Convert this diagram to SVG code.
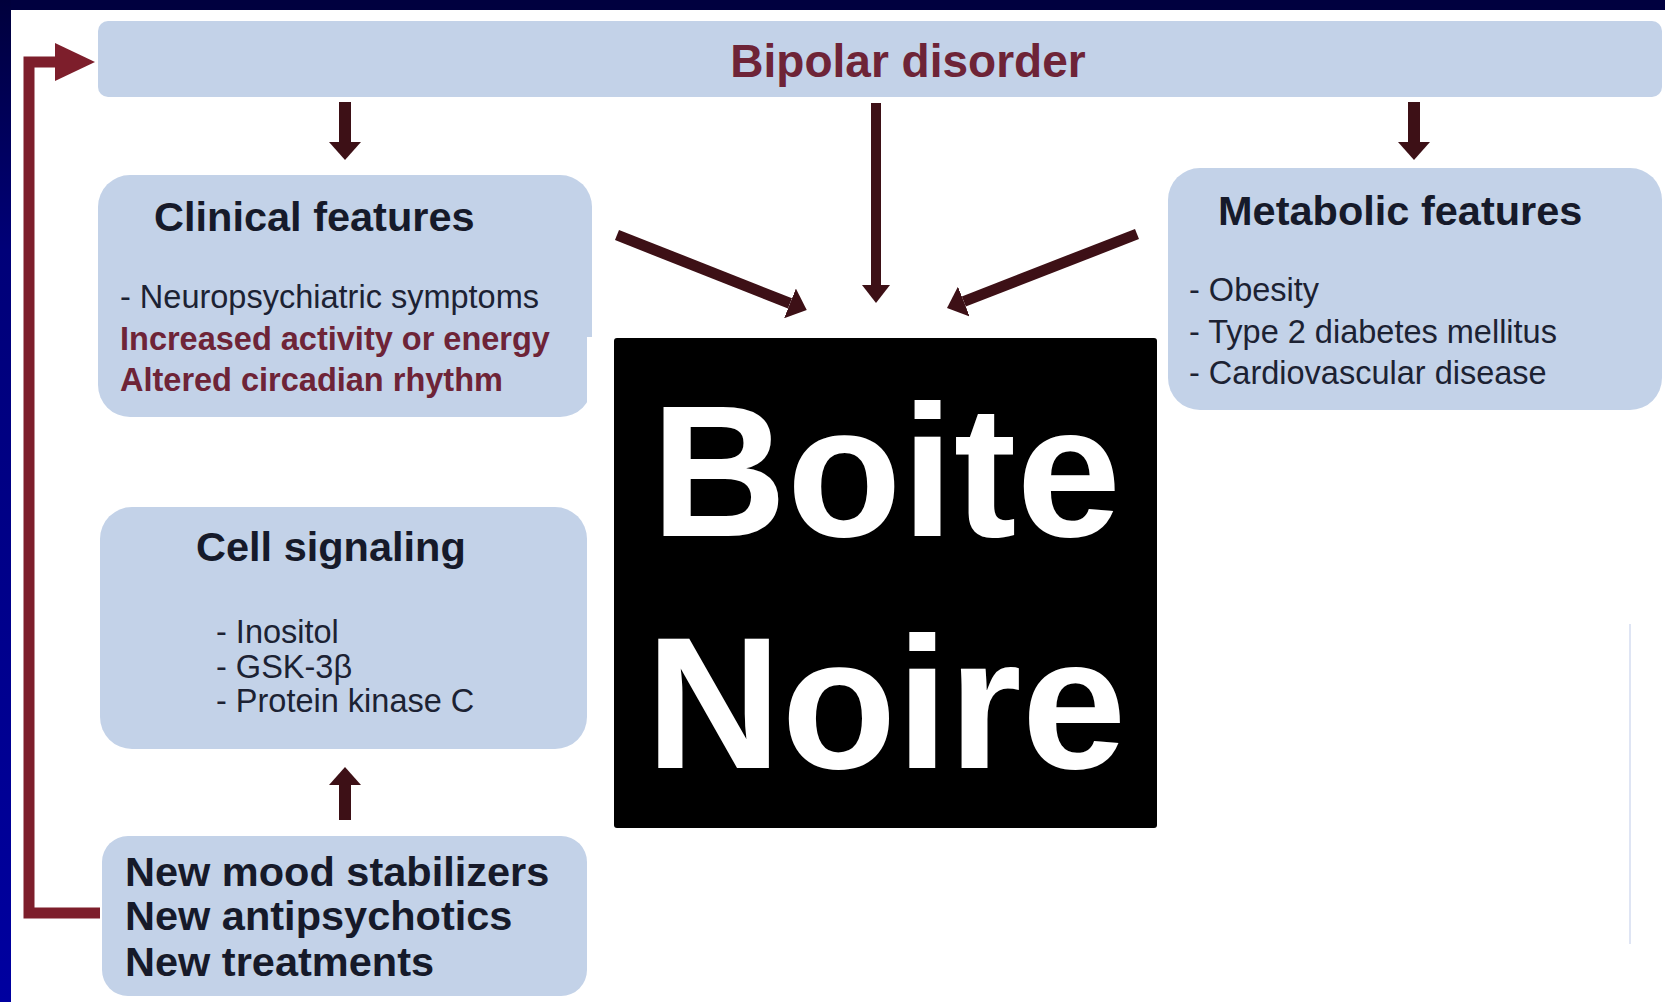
<svg xmlns="http://www.w3.org/2000/svg" width="1665" height="1002" viewBox="0 0 1665 1002">
  <defs>
    <linearGradient id="leftband" x1="0" y1="0" x2="0" y2="1">
      <stop offset="0" stop-color="#00003c"/>
      <stop offset="0.25" stop-color="#000078"/>
      <stop offset="1" stop-color="#0000a0"/>
    </linearGradient>
    <marker id="head" viewBox="0 0 18 32" markerWidth="18" markerHeight="32" refX="0" refY="16" orient="auto" markerUnits="userSpaceOnUse">
      <path d="M0,0 L18,16 L0,32 z" fill="#3d1016"/>
    </marker>
    <marker id="headS" viewBox="0 0 18 28" markerWidth="18" markerHeight="28" refX="0" refY="14" orient="auto" markerUnits="userSpaceOnUse">
      <path d="M0,0 L18,14 L0,28 z" fill="#3d1016"/>
    </marker>
    <marker id="fbhead" viewBox="0 0 40 38" markerWidth="40" markerHeight="38" refX="0" refY="19" orient="auto" markerUnits="userSpaceOnUse">
      <path d="M0,0 L40,19 L0,38 z" fill="#7d1e2b"/>
    </marker>
  </defs>
  <style>
    .box { fill: #c3d2e8; }
    .title { font-family: "Liberation Sans", Arial, sans-serif; font-weight: bold; fill: #161a2a; }
    .body { font-family: "Liberation Sans", Arial, sans-serif; font-size: 32.5px; fill: #1c2233; }
    .red { font-family: "Liberation Sans", Arial, sans-serif; font-weight: bold; font-size: 32.5px; fill: #6e2437; }
    .arrow { stroke: #3d1016; fill: none; }
    .fb { stroke: #7d1e2b; stroke-width: 11; fill: none; }
    .big { font-family: "Liberation Sans", Arial, sans-serif; font-weight: bold; font-size: 188px; fill: #ffffff; text-anchor: middle; }
  </style>

  <!-- background -->
  <rect x="0" y="0" width="1665" height="1002" fill="#ffffff"/>
  <rect x="0" y="0" width="1665" height="10" fill="#00003f"/>
  <rect x="0" y="0" width="11" height="1002" fill="url(#leftband)"/>
  <line x1="1630" y1="624" x2="1630" y2="944" stroke="#dfe5f4" stroke-width="2"/>

  <g id="bipolar">
    <rect class="box" x="98" y="21" width="1564" height="76" rx="10"/>
    <text x="908" y="77" text-anchor="middle" font-family="Liberation Sans, Arial, sans-serif" font-weight="bold" font-size="46" fill="#6e2437">Bipolar disorder</text>
  </g>

  <g id="clinical">
    <rect class="box" x="98" y="175" width="494" height="242" rx="32"/>
    <text class="title" x="154" y="231" font-size="41.5">Clinical features</text>
    <text class="body" x="120" y="308">- Neuropsychiatric symptoms</text>
    <text class="red" x="120" y="350">Increased activity or energy</text>
    <text class="red" x="120" y="391">Altered circadian rhythm</text>
  </g>

  <g id="metabolic">
    <rect class="box" x="1168" y="168" width="494" height="242" rx="32"/>
    <text class="title" x="1218" y="225" font-size="41.5">Metabolic features</text>
    <text class="body" x="1189" y="301">- Obesity</text>
    <text class="body" x="1189" y="343">- Type 2 diabetes mellitus</text>
    <text class="body" x="1189" y="384">- Cardiovascular disease</text>
  </g>

  <g id="cellsignaling">
    <rect class="box" x="100" y="507" width="487" height="242" rx="32"/>
    <text class="title" x="196" y="561" font-size="41.5">Cell signaling</text>
    <text class="body" x="216" y="643">- Inositol</text>
    <text class="body" x="216" y="678">- GSK-3β</text>
    <text class="body" x="216" y="712">- Protein kinase C</text>
  </g>

  <g id="treatments">
    <rect class="box" x="102" y="836" width="485" height="160" rx="26"/>
    <text class="title" x="125" y="886" font-size="41.5">New mood stabilizers</text>
    <text class="title" x="125" y="930" font-size="41.5">New antipsychotics</text>
    <text class="title" x="125" y="976" font-size="41.5">New treatments</text>
  </g>

  <g id="connectors">
    <line class="arrow" stroke-width="12" x1="345" y1="102" x2="345" y2="142" marker-end="url(#head)"/>
    <line class="arrow" stroke-width="12" x1="1414" y1="102" x2="1414" y2="142" marker-end="url(#head)"/>
    <line class="arrow" stroke-width="10" x1="876" y1="103" x2="876" y2="285" marker-end="url(#headS)"/>
    <line class="arrow" stroke-width="11" x1="617" y1="235" x2="790" y2="303.4" marker-end="url(#head)"/>
    <line class="arrow" stroke-width="11" x1="1137" y1="234" x2="963.8" y2="301.5" marker-end="url(#head)"/>
    <line class="arrow" stroke-width="12" x1="345" y1="820" x2="345" y2="785" marker-end="url(#head)"/>
    <polyline class="fb" points="100,913 29,913 29,62 55,62" marker-end="url(#fbhead)"/>
  </g>

  <g id="boitenoire">
    <rect x="587" y="337" width="579" height="201" fill="#ffffff"/>
    <rect x="614" y="338" width="543" height="490" rx="3" fill="#000000"/>
    <text class="big" x="886" y="536">Boite</text>
    <text class="big" x="886" y="768">Noire</text>
  </g>
</svg>
